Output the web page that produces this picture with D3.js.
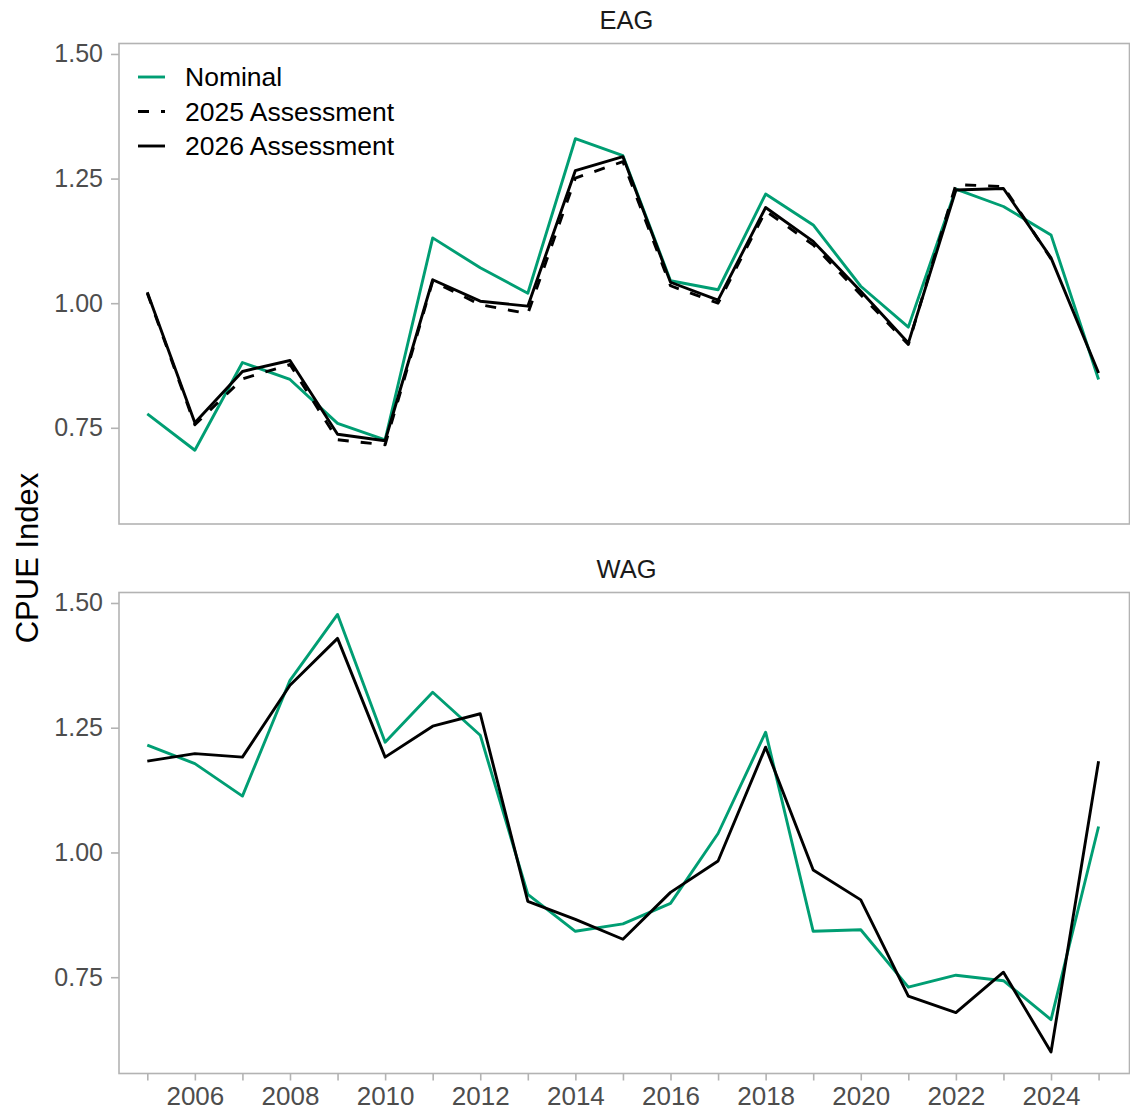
<!DOCTYPE html>
<html>
<head>
<meta charset="utf-8">
<script src="https://cdn.jsdelivr.net/npm/d3@7"></script>
<style>
  html, body { margin: 0; padding: 0; background: #fff; }
  svg { display: block; font-family: "Liberation Sans", Arial, Helvetica, sans-serif; }
</style>
</head>
<body>
<svg id="chart" width="1130" height="1116"></svg>
<script>
// CPUE index by year, Aleutian Islands areas (EAG / WAG)
const years = [2005, 2006, 2007, 2008, 2009, 2010, 2011, 2012, 2013, 2014, 2015,
               2016, 2017, 2018, 2019, 2020, 2021, 2022, 2023, 2024, 2025];
const years2025 = years.slice(0, 20); // 2025 assessment runs through 2024

const eagNominal = [0.778, 0.705, 0.881, 0.847, 0.759, 0.726, 1.131, 1.071, 1.020, 1.330, 1.296,
                    1.045, 1.027, 1.219, 1.157, 1.034, 0.952, 1.229, 1.194, 1.137, 0.847];
const eag2025    = [1.020, 0.756, 0.848, 0.877, 0.726, 0.716, 1.044, 0.997, 0.979, 1.251, 1.284,
                    1.035, 1.000, 1.185, 1.117, 1.017, 0.917, 1.238, 1.234, 1.089];
const eag2026    = [1.022, 0.760, 0.863, 0.885, 0.737, 0.724, 1.047, 1.004, 0.994, 1.266, 1.294,
                    1.042, 1.006, 1.192, 1.124, 1.024, 0.920, 1.227, 1.230, 1.091, 0.860];

const wagNominal = [1.215, 1.178, 1.113, 1.345, 1.477, 1.221, 1.321, 1.235, 0.916, 0.842, 0.857,
                    0.898, 1.038, 1.241, 0.842, 0.845, 0.730, 0.754, 0.743, 0.665, 1.052];
const wag2026    = [1.183, 1.198, 1.191, 1.335, 1.429, 1.191, 1.253, 1.278, 0.902, 0.866, 0.826,
                    0.920, 0.983, 1.211, 0.965, 0.905, 0.712, 0.679, 0.760, 0.600, 1.183];

const yTicks = [0.75, 1.00, 1.25, 1.50];
const xTicksMajor = [2006, 2008, 2010, 2012, 2014, 2016, 2018, 2020, 2022, 2024];

const seriesNames = ["Nominal", "2025 Assessment", "2026 Assessment"];

const colors = { "Nominal": "#009E73", "2025 Assessment": "#000000", "2026 Assessment": "#000000" };
const dashes = { "Nominal": null, "2025 Assessment": "11,12", "2026 Assessment": null };

const panels = [
  { name: "EAG", top: 43.5, bottom: 524, series: [
      { key: "Nominal", x: years, y: eagNominal },
      { key: "2025 Assessment", x: years2025, y: eag2025 },
      { key: "2026 Assessment", x: years, y: eag2026 } ] },
  { name: "WAG", top: 592.5, bottom: 1073.5, series: [
      { key: "Nominal", x: years, y: wagNominal },
      { key: "2026 Assessment", x: years, y: wag2026 } ] }
];

const svg = d3.select("#chart");
const left = 119, right = 1129.5;
const axisGrey = "#B3B3B3", textGrey = "#4D4D4D";
const lineWidth = 2.9;

const x = d3.scaleLinear().domain([2004.405, 2025.65]).range([left, right]);

panels.forEach((p, pi) => {
  const y = d3.scaleLinear().domain([0.557, 1.521]).range([p.bottom, p.top]);
  const g = svg.append("g");

  // panel frame
  g.append("rect")
    .attr("x", left).attr("y", p.top)
    .attr("width", right - left).attr("height", p.bottom - p.top)
    .attr("fill", "none").attr("stroke", axisGrey).attr("stroke-width", 1.6);

  // strip title
  g.append("text")
    .attr("x", (left + 1130) / 2 + 2).attr("y", p.top - 15)
    .attr("text-anchor", "middle")
    .attr("font-size", 25.5).attr("fill", "#1a1a1a")
    .text(p.name);

  // y axis
  const yAxis = g.append("g").attr("transform", `translate(${left},0)`)
    .call(d3.axisLeft(y).tickValues(yTicks).tickFormat(d3.format(".2f"))
      .tickSize(8).tickPadding(8));
  yAxis.select(".domain").remove();
  yAxis.selectAll(".tick line").attr("stroke", axisGrey).attr("stroke-width", 1.6);
  yAxis.selectAll(".tick text").attr("fill", textGrey).attr("font-size", 25)
    .attr("font-family", "'Liberation Sans', Arial, sans-serif");

  // lines
  const line = d3.line().x(d => x(d[0])).y(d => y(d[1]));
  p.series.forEach(s => {
    const pts = s.x.map((yr, i) => [yr, s.y[i]]);
    g.append("path")
      .datum(pts)
      .attr("d", line)
      .attr("fill", "none")
      .attr("stroke", colors[s.key])
      .attr("stroke-width", lineWidth)
      .attr("stroke-linejoin", "round")
      .attr("stroke-dasharray", dashes[s.key]);
  });

  // x axis only on the lower panel
  if (pi === panels.length - 1) {
    const xAxis = g.append("g").attr("transform", `translate(0,${p.bottom})`)
      .call(d3.axisBottom(x).tickValues(years)
        .tickFormat(d => xTicksMajor.includes(d) ? String(d) : "")
        .tickSize(7).tickPadding(6));
    xAxis.select(".domain").remove();
    xAxis.selectAll(".tick line").attr("stroke", axisGrey).attr("stroke-width", 1.6);
    xAxis.selectAll(".tick text").attr("fill", textGrey).attr("font-size", 26)
      .attr("font-family", "'Liberation Sans', Arial, sans-serif");
  }

  // legend inside the upper panel
  if (pi === 0) {
    const lg = g.append("g");
    seriesNames.forEach((name, i) => {
      const cy = 77 + i * 34.5;
      lg.append("line")
        .attr("x1", 138).attr("x2", 165).attr("y1", cy).attr("y2", cy)
        .attr("stroke", colors[name]).attr("stroke-width", lineWidth)
        .attr("stroke-dasharray", dashes[name]);
      lg.append("text")
        .attr("x", 185).attr("y", cy).attr("dy", "0.35em")
        .attr("font-size", 26.5).attr("fill", "#000")
        .text(name);
    });
  }
});

// shared y-axis title
svg.append("text")
  .attr("transform", "translate(38,558) rotate(-90)")
  .attr("text-anchor", "middle")
  .attr("font-size", 31).attr("fill", "#000")
  .text("CPUE Index");
</script>
</body>
</html>
